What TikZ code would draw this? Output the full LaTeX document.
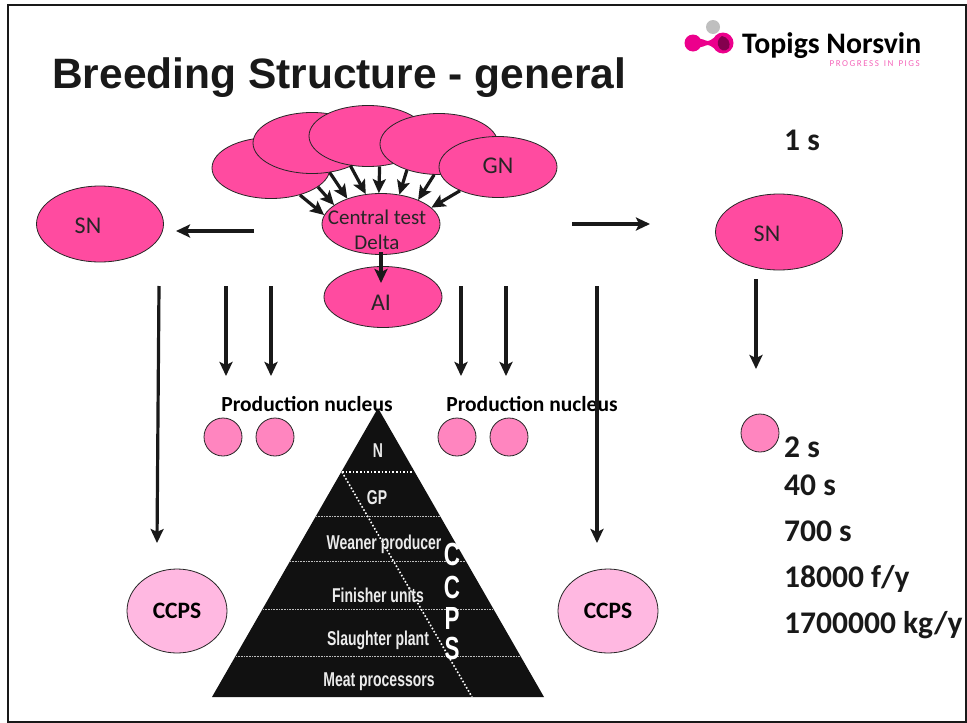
\documentclass[tikz,border=0pt]{standalone}
\usepackage{fontspec}
\setmainfont{Carlito}
\newfontfamily\arialfont{Liberation Sans}
\newfontfamily\narrowfont[FakeStretch=0.7]{Liberation Sans}
\usetikzlibrary{shapes.geometric,arrows.meta}

\definecolor{blobpink}{HTML}{FF4BA0}
\definecolor{nucleuspink}{HTML}{FF85BF}
\definecolor{ccpspink}{HTML}{FFB8E1}
\definecolor{logopink}{HTML}{EC008C}
\definecolor{pyramidblack}{HTML}{111111}

\tikzset{
  blob/.style={ellipse, draw=black!85, thick, fill=blobpink, inner sep=0pt, minimum width=118pt, minimum height=61pt},
  sn/.style={blob, minimum width=127pt, minimum height=76pt},
  bloblabel/.style={inner sep=0pt, align=center, text=black!85, font=\fontsize{24}{28}\selectfont},
  nucleus/.style={circle, draw=black!85, thick, fill=nucleuspink, inner sep=0pt, minimum size=38pt},
  ccps/.style={ellipse, draw=black!85, thick, fill=ccpspink, inner sep=0pt, minimum width=100pt, minimum height=84pt, font=\fontsize{23.5}{27}\selectfont\bfseries},
  bigarrow/.style={-{Stealth[length=14pt,width=13pt,inset=3pt]}, line width=3.2pt, black!90},
  plainlabel/.style={inner sep=0pt, font=\fontsize{21.5}{25}\selectfont\bfseries},
  countlabel/.style={anchor=west, inner sep=0pt, text=black!90, font=\fontsize{31.5}{36}\selectfont\bfseries},
  level/.style={inner sep=0pt, text=white!92!black, font=\narrowfont\fontsize{20}{24}\selectfont\bfseries},
  ccpsletter/.style={inner sep=0pt, text=white, font=\narrowfont\fontsize{32}{35}\selectfont\bfseries},
  levelline/.style={white!75!black, line width=0.6pt, densely dotted}
}

\begin{document}
\begin{tikzpicture}[x=1pt,y=-1pt]
\useasboundingbox (0,0) rectangle (967,723);
\draw[line width=2.6pt, black!90] (8,5) rectangle (966,722);

%% TITLE AND LOGO
\node[anchor=base west, inner sep=0pt, text=black!90, font=\arialfont\fontsize{42.5}{48}\selectfont\bfseries](title) at (52,88){Breeding Structure - general};

\fill[logopink] (693,43) circle (8.5) (723,43) circle (10.5);
\fill[logopink] (693,38) .. controls (703,38) and (705,41) .. (708,41) .. controls (711,41) and (714,36) .. (723,34) -- (723,52) .. controls (714,50) and (711,45) .. (708,45) .. controls (705,45) and (703,48) .. (693,48) -- cycle;
\fill[black!25] (713,27) circle (7);
\fill[black!30!logopink!80!black] (722,36) .. controls (728,37) and (731,43) .. (729,48) .. controls (725,53) and (719,50) .. (718,45) .. controls (717,41) and (719,38) .. (722,36) -- cycle;
\node[anchor=base west, inner sep=0pt, font=\fontsize{29.8}{33}\selectfont\bfseries](logo_name) at (742,53){Topigs Norsvin};
\node[anchor=base east, inner sep=0pt, text=logopink!60, font=\fontsize{9}{10}\selectfont](logo_slogan) at (920,66){P\,R\,O\,G\,R\,E\,S\,S\, \,I\,N\, \,P\,I\,G\,S};

%% CENTRAL TEST AND GN
\node[blob](central) at (381,224){};
\node[blob, xshift=-110pt, yshift=56pt](gn_a) at (central){};
\node[blob, xshift=-69pt, yshift=81pt](gn_b) at (central){};
\node[blob, xshift=-13pt, yshift=88pt](gn_c) at (central){};
\node[blob, xshift=58pt, yshift=80pt](gn_d) at (central){};
\node[blob, xshift=117pt, yshift=57pt](gn_e) at (central){};
\node[blob, xshift=2pt, yshift=-73pt](ai) at (central){};
\node[bloblabel](gn_label) at (498,166){GN};
\node[bloblabel](ai_label) at (381,303){AI};
\node[bloblabel, font=\fontsize{21}{25}\selectfont](central_label) at (377,230){Central test\\Delta};

\draw[bigarrow] (gn_a.-43) -- (central.171);
\draw[bigarrow] (gn_a.-22) -- (central.158);
\draw[bigarrow] (gn_b.-59) -- (central.143);
\draw[bigarrow] (gn_c.-121) -- (central.117);
\draw[bigarrow] (gn_c.-69) -- (central.94);
\draw[bigarrow] (gn_d.-141) -- (central.58);
\draw[bigarrow] (gn_d.-99) -- (central.33);
\draw[bigarrow] (gn_e.-148) -- (central.18);

\coordinate (ai_from) at (381,252);
\coordinate (ai_to) at (381,283);
\draw[bigarrow] (ai_from) -- (ai_to);

%% SN
\node[sn, xshift=-281pt, yshift=0pt](sn_left) at (central){};
\node[sn, xshift=398pt, yshift=-8pt](sn_right) at (central){};
\node[bloblabel](sn_left_label) at (88,226){SN};
\node[bloblabel](sn_right_label) at (767,234){SN};

\coordinate (left_from) at (254,231);
\coordinate (left_to) at (176,231);
\coordinate (right_from) at (572,224);
\coordinate (right_to) at (650,224);
\draw[bigarrow] (left_from) -- (left_to);
\draw[bigarrow] (right_from) -- (right_to);

%% PRODUCTION NUCLEUS
\node[plainlabel](prod_left) at (307,404){Production nucleus};
\node[plainlabel](prod_right) at (532,404){Production nucleus};
\node[nucleus](nuc_a) at (223,437){};
\node[nucleus](nuc_b) at (275,437){};
\node[nucleus](nuc_c) at (457,437){};
\node[nucleus](nuc_d) at (509,437){};
\node[nucleus](nuc_e) at (760,433){};

\coordinate (down_a) at (226,286);
\coordinate (down_a_to) at (226,376);
\coordinate (down_b) at (271,286);
\coordinate (down_b_to) at (271,376);
\coordinate (down_c) at (461,286);
\coordinate (down_c_to) at (461,376);
\coordinate (down_d) at (506,286);
\coordinate (down_d_to) at (506,376);
\coordinate (down_sn) at (756,279);
\coordinate (down_sn_to) at (756,369);
\draw[bigarrow] (down_a) -- (down_a_to);
\draw[bigarrow] (down_b) -- (down_b_to);
\draw[bigarrow] (down_c) -- (down_c_to);
\draw[bigarrow] (down_d) -- (down_d_to);
\draw[bigarrow] (down_sn) -- (down_sn_to);

%% PYRAMID
\coordinate (top) at (378,408);
\coordinate (base_left) at (212,697);
\coordinate (base_right) at (544,697);
\fill[pyramidblack] (top) -- (base_left) -- (base_right) -- cycle;

\coordinate (n_left) at (342,472);
\coordinate (n_right) at (413,472);
\coordinate (gp_left) at (316,516);
\coordinate (gp_right) at (440,516);
\coordinate (wean_left) at (290,561);
\coordinate (wean_right) at (466,561);
\coordinate (fin_left) at (263,609);
\coordinate (fin_right) at (493,609);
\coordinate (sl_left) at (236,656);
\coordinate (sl_right) at (520,656);
\coordinate (diag_end) at (472,697);
\draw[white, line width=1.6pt, dotted] (n_left) -- (n_right);
\draw[levelline] (gp_left) -- (gp_right);
\draw[levelline] (wean_left) -- (wean_right);
\draw[levelline] (fin_left) -- (fin_right);
\draw[levelline] (sl_left) -- (sl_right);
\draw[white, line width=1.6pt, dotted] (n_left) -- (diag_end);

\node[level](lev_n) at (378,451){N};
\node[level](lev_gp) at (377,498){GP};
\node[level](lev_wean) at (384,544){Weaner producer};
\node[level](lev_fin) at (378,595){Finisher units};
\node[level](lev_sl) at (378,640){Slaughter plant};
\node[level](lev_meat) at (379,682){Meat processors};

\node[ccpsletter](c_a) at (452,554){C};
\node[ccpsletter](c_b) at (452,587){C};
\node[ccpsletter](c_p) at (452,618){P};
\node[ccpsletter](c_s) at (452,648){S};

%% CCPS
\node[ccps](ccps_left) at (177,611){CCPS};
\node[ccps](ccps_right) at (608,611){CCPS};

\coordinate (long_left) at (159,286);
\coordinate (long_left_to) at (157,543);
\coordinate (long_right) at (597,286);
\coordinate (long_right_to) at (597,543);
\draw[bigarrow] (long_left) -- (long_left_to);
\draw[bigarrow] (long_right) -- (long_right_to);

%% COUNTS
\node[countlabel](count_a) at (784,140){1 s};
\node[countlabel](count_b) at (784,447){2 s};
\node[countlabel](count_c) at (784,485){40 s};
\node[countlabel](count_d) at (784,531){700 s};
\node[countlabel](count_e) at (784,579){18000 f/y};
\node[countlabel](count_f) at (784,625){1700000 kg/y};

\end{tikzpicture}
\end{document}
